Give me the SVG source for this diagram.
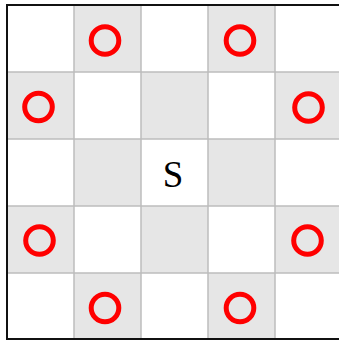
<svg xmlns="http://www.w3.org/2000/svg" width="339" height="340" viewBox="0 0 339 340">
<style>
.g{fill:#e6e6e6}
.ln{stroke:#bdbdbd;stroke-width:1.5;fill:none}
.o{fill:none;stroke:#ff0000;stroke-width:5}
</style>
<rect x="0" y="0" width="339" height="340" fill="#fff"/>
<g id="cells">
<rect class="g" x="74" y="5" width="67" height="67"/>
<rect class="g" x="208" y="5" width="67" height="67"/>
<rect class="g" x="7" y="72" width="67" height="67"/>
<rect class="g" x="141" y="72" width="67" height="67"/>
<rect class="g" x="275" y="72" width="67" height="67"/>
<rect class="g" x="74" y="139" width="67" height="67"/>
<rect class="g" x="208" y="139" width="67" height="67"/>
<rect class="g" x="7" y="206" width="67" height="67"/>
<rect class="g" x="141" y="206" width="67" height="67"/>
<rect class="g" x="275" y="206" width="67" height="67"/>
<rect class="g" x="74" y="273" width="67" height="67"/>
<rect class="g" x="208" y="273" width="67" height="67"/>
</g>
<g id="gridlines">
<path class="ln" d="M74 5V340M141 5V340M208 5V340M275 5V340M7 72H342M7 139H342M7 206H342M7 273H342"/>
</g>
<path d="M342 5H7V339H342" fill="none" stroke="#111" stroke-width="2"/>
<g id="marks">
<circle class="o" cx="105" cy="40.5" r="13.8"/>
<circle class="o" cx="240" cy="40.5" r="13.8"/>
<circle class="o" cx="38.5" cy="107" r="13.8"/>
<circle class="o" cx="308.5" cy="107.5" r="13.8"/>
<circle class="o" cx="39.5" cy="240.5" r="13.8"/>
<circle class="o" cx="307.5" cy="240.5" r="13.8"/>
<circle class="o" cx="105" cy="308" r="13.8"/>
<circle class="o" cx="240" cy="308" r="13.8"/>
</g>
<text x="173" y="186.5" font-family="Liberation Serif, serif" font-size="37" text-anchor="middle" fill="#000">S</text>
</svg>
